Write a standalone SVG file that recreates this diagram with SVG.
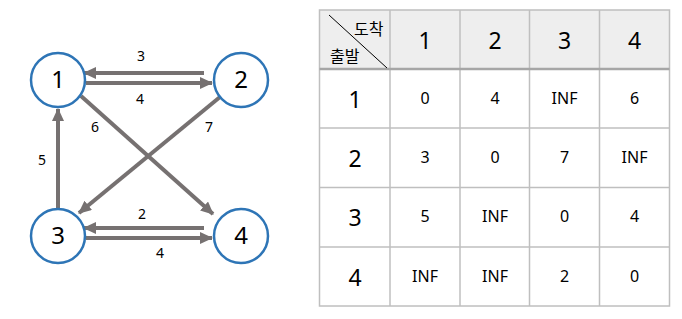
<svg xmlns="http://www.w3.org/2000/svg" width="682" height="319" viewBox="0 0 682 319">
<style>
.node{fill:#fff;stroke:#2e75b6;stroke-width:2.5}
.nl{font-family:"Noto Sans","Open Sans",sans-serif;font-size:24px;fill:#000;text-anchor:middle}
.e{stroke:#767171;stroke-width:4;fill:none;marker-end:url(#ah)}
.el{font-family:"Noto Sans","Open Sans",sans-serif;font-size:14px;fill:#000;text-anchor:middle}
.hd{fill:#eeeeee}
.g{stroke:#bfbfbf;stroke-width:1.5;fill:none}
.big{font-family:"Noto Sans","Open Sans",sans-serif;font-size:23px;fill:#000;text-anchor:middle}
.v{font-family:"Noto Sans","Open Sans",sans-serif;font-size:16px;fill:#000;text-anchor:middle}
.kr{font-family:"Noto Sans CJK KR",sans-serif;font-size:16px;fill:#000}
</style>
<defs>
<marker id="ah" markerUnits="userSpaceOnUse" markerWidth="14" markerHeight="12" refX="12" refY="6" orient="auto">
<path d="M0,0 L13,6 L0,12 Z" fill="#767171"/>
</marker>
</defs>
<rect width="682" height="319" fill="#fff"/>
<g id="connectors">
<line class="e" x1="204" y1="73" x2="84" y2="73"/>
<line class="e" x1="86" y1="83" x2="212" y2="83"/>
<line class="e" x1="81" y1="96" x2="213" y2="214"/>
<line class="e" x1="220" y1="97" x2="79" y2="213"/>
<line class="e" x1="58" y1="208" x2="58" y2="109"/>
<line class="e" x1="204" y1="228" x2="84" y2="228"/>
<line class="e" x1="86" y1="238" x2="212" y2="238"/>
<text class="el" x="141" y="61">3</text>
<text class="el" x="140" y="104">4</text>
<text class="el" x="95" y="132">6</text>
<text class="el" x="209" y="132">7</text>
<text class="el" x="42" y="165">5</text>
<text class="el" x="142" y="219">2</text>
<text class="el" x="160" y="258">4</text>
</g>
<g id="n1"><circle class="node" cx="58" cy="80" r="27"/><text class="nl" x="58" y="88">1</text></g>
<g id="n2"><circle class="node" cx="241" cy="80" r="27"/><text class="nl" x="241" y="88">2</text></g>
<g id="n3"><circle class="node" cx="58" cy="236" r="27"/><text class="nl" x="58" y="244">3</text></g>
<g id="n4"><circle class="node" cx="241" cy="236" r="27"/><text class="nl" x="241" y="244">4</text></g>
<g id="table">
<rect class="hd" x="319.5" y="10" width="350" height="59"/>
<rect class="g" x="319.5" y="10" width="350" height="296"/>
<line class="g" x1="390" y1="10" x2="390" y2="306"/>
<line class="g" x1="460" y1="10" x2="460" y2="306"/>
<line class="g" x1="529.5" y1="10" x2="529.5" y2="306"/>
<line class="g" x1="599.5" y1="10" x2="599.5" y2="306"/>
<line x1="319.5" y1="69" x2="669.5" y2="69" stroke="#a6a6a6" stroke-width="2.5"/>
<line class="g" x1="319.5" y1="128" x2="669.5" y2="128"/>
<line class="g" x1="319.5" y1="187.5" x2="669.5" y2="187.5"/>
<line class="g" x1="319.5" y1="247" x2="669.5" y2="247"/>
<line x1="329" y1="15" x2="387" y2="68" stroke="#000" stroke-width="1"/>
<text class="kr" x="354" y="35">도착</text>
<text class="kr" x="330" y="62">출발</text>
<text class="big" x="425" y="49">1</text>
<text class="big" x="495" y="49">2</text>
<text class="big" x="564.5" y="49">3</text>
<text class="big" x="634.5" y="49">4</text>
<text class="big" x="355" y="108">1</text>
<text class="big" x="355" y="167">2</text>
<text class="big" x="355" y="226">3</text>
<text class="big" x="355" y="286">4</text>
<text class="v" x="425" y="104">0</text>
<text class="v" x="495" y="104">4</text>
<text class="v" x="564.5" y="104">INF</text>
<text class="v" x="634.5" y="104">6</text>
<text class="v" x="425" y="163">3</text>
<text class="v" x="495" y="163">0</text>
<text class="v" x="564.5" y="163">7</text>
<text class="v" x="634.5" y="163">INF</text>
<text class="v" x="425" y="222">5</text>
<text class="v" x="495" y="222">INF</text>
<text class="v" x="564.5" y="222">0</text>
<text class="v" x="634.5" y="222">4</text>
<text class="v" x="425" y="282">INF</text>
<text class="v" x="495" y="282">INF</text>
<text class="v" x="564.5" y="282">2</text>
<text class="v" x="634.5" y="282">0</text>
</g>
</svg>
